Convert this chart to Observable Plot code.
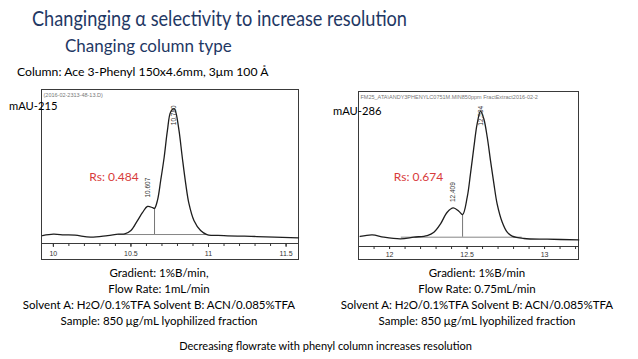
<!DOCTYPE html>
<html><head><meta charset="utf-8">
<script src="https://cdn.jsdelivr.net/npm/d3@7"></script>
<script src="https://cdn.jsdelivr.net/npm/@observablehq/plot@0.6"></script>
<style>
html,body{margin:0;padding:0;background:#fff;}
#page{position:relative;width:638px;height:359px;overflow:hidden;background:#fff;font-family:Lato,"Open Sans",sans-serif;}
.box{position:absolute;border:1px solid #3a3a3a;background:#fff;}
.box svg{display:block;}
#overlay{position:absolute;left:0;top:0;pointer-events:none;}
</style></head><body>
<div id="page">
  <div class="box" id="leftBox" style="left:41px;top:89px;width:256px;height:169px;"></div>
  <div class="box" id="rightBox" style="left:358px;top:91px;width:219px;height:167px;"></div>
  <svg id="overlay" width="638" height="359" font-family="Lato, 'Open Sans', sans-serif">
    <text x="32" y="26" font-size="21" fill="#1f3864" textLength="375" lengthAdjust="spacingAndGlyphs">Changinging α selectivity to increase resolution</text>
    <text x="65" y="52" font-size="17" fill="#1f3864">Changing column type</text>
    <text x="17" y="76" font-size="12.2" fill="#000">Column: Ace 3-Phenyl 150x4.6mm, 3μm 100 Å</text>
    <text x="9" y="110" font-size="11.2" fill="#000">mAU-215</text>
    <text x="333" y="115" font-size="11.2" fill="#000">mAU-286</text>
    <g font-size="11.5" fill="#000" text-anchor="middle">
      <text x="159" y="277">Gradient: 1%B/min,</text>
      <text x="159" y="293">Flow Rate: 1mL/min</text>
      <text x="159" y="309">Solvent A: H<tspan font-size="9">2</tspan>O/0.1%TFA Solvent B: ACN/0.085%TFA</text>
      <text x="159" y="325">Sample: 850 μg/mL lyophilized fraction</text>
      <text x="477" y="277">Gradient: 1%B/min</text>
      <text x="477" y="293">Flow Rate: 0.75mL/min</text>
      <text x="477" y="309">Solvent A: H<tspan font-size="9">2</tspan>O/0.1%TFA Solvent B: ACN/0.085%TFA</text>
      <text x="477" y="325">Sample: 850 μg/mL lyophilized fraction</text>
      <text x="325.5" y="350" font-size="11">Decreasing flowrate with phenyl column increases resolution</text>
    </g>
  </svg>
</div>
<script>
// ---- Left chromatogram (Ace 3-Phenyl, 1 mL/min) ----
const leftTime   = [9.93, 10.00, 10.07, 10.14, 10.24, 10.35, 10.42, 10.46, 10.50, 10.54, 10.575, 10.607, 10.64, 10.652, 10.671, 10.692, 10.714, 10.735, 10.756, 10.779, 10.79, 10.81, 10.831, 10.853, 10.874, 10.906, 10.949, 10.99, 11.10, 11.31, 11.58];
const leftSignal = [-1.5, 0.5, -0.5, -1, -4, -1.5, 0.5, 1, 6, 20, 33, 42, 40, 39, 51, 81, 115, 155, 183, 188, 182, 155, 115, 76, 46, 21, 6, 0, -1.5, -3, -5];
const leftMajorTicks = [10, 10.5, 11, 11.5];
const leftMinorTicks = [10.0, 10.1, 10.2, 10.3, 10.4, 10.5, 10.6, 10.7, 10.8, 10.9, 11.0, 11.1, 11.2, 11.3, 11.4, 11.5];
const leftPeakTimes  = [10.607, 10.780];
const leftPeakLabels = ["10.607", "10.780"];
const leftPeakLabelAt = [70, 178];
const leftValley = {time: 10.652, signal: 39};
const leftBaseStart = 10.42, leftBaseEnd = 10.99;
const leftRs = {time: 10.391, signal: 85, text: "Rs: 0.484"};
const leftHeader = "(2016-02-2313-48-13.D)";
const leftDomainX = [9.93, 11.58];
const leftDomainY = [-13.4, 215];

// ---- Right chromatogram (Ace 3-Phenyl, 0.75 mL/min) ----
const rightTime   = [11.81, 11.888, 11.963, 12.07, 12.157, 12.243, 12.286, 12.329, 12.372, 12.411, 12.447, 12.471, 12.501, 12.522, 12.544, 12.565, 12.587, 12.608, 12.63, 12.651, 12.673, 12.694, 12.727, 12.759, 12.791, 12.867, 13.017, 13.22];
const rightSignal = [1.4, 4.7, 0, -3.3, 0, 3.3, 9.9, 26.4, 49.4, 58, 51.4, 44.8, 79, 125, 178, 224, 249, 234, 198, 152, 106, 66, 29.6, 9.9, 2, -2.6, -4, -5.3];
const rightMajorTicks = [12, 12.5, 13];
const rightMinorTicks = [11.9, 12.0, 12.1, 12.2, 12.3, 12.4, 12.5, 12.6, 12.7, 12.8, 12.9, 13.0, 13.1, 13.2];
const rightPeakTimes  = [12.409, 12.590];
const rightPeakLabels = ["12.409", "12.594"];
const rightPeakLabelAt = [89, 240];
const rightValley = {time: 12.471, signal: 44.8};
const rightBaseStart = 12.075, rightBaseEnd = 12.85;
const rightRs = {time: 12.187, signal: 118, text: "Rs: 0.674"};
const rightHeader = "FM25_ATA\\ANDY3PHENYLC0751M.MIN850ppm FractExtract2016-02-2";
const rightDomainX = [11.806, 13.219];
const rightDomainY = [-18.4, 286];

function chromatogram(o) {
  const data = o.time.map((t, i) => ({time: t, signal: o.signal[i]}));
  const peaks = o.peakTimes.map((t, i) => ({time: t, signal: o.peakLabelAt[i], label: o.peakLabels[i]}));
  const base = [{time: o.baseStart, signal: 0}, {time: o.baseEnd, signal: 0}];
  return Plot.plot({
    width: o.width, height: o.height,
    marginTop: 0, marginLeft: 0, marginRight: 0, marginBottom: o.marginBottom,
    x: {domain: o.domainX, axis: null, label: null},
    y: {domain: o.domainY, axis: null, label: null},
    style: {fontFamily: "'Liberation Sans', Arial, sans-serif", background: "transparent", overflow: "visible"},
    marks: [
      Plot.frame({anchor: "bottom", stroke: "#3a3a3a"}),
      Plot.axisX({ticks: o.minorTicks, tickFormat: () => "", tickSize: 3, stroke: "#333", label: null}),
      Plot.axisX({ticks: o.majorTicks, tickFormat: d => String(d), tickSize: o.tickSize, tickPadding: o.tickPadding, fontSize: 7, fill: "#333", stroke: "#333", label: null}),
      Plot.line(base, {x: "time", y: "signal", stroke: "#666", strokeWidth: 0.8}),
      Plot.ruleX([o.valley], {x: "time", y1: 0, y2: "signal", stroke: "#666", strokeWidth: 0.9}),
      Plot.line(data, {x: "time", y: "signal", curve: "catmull-rom", stroke: "#1e1e1e", strokeWidth: 1.3}),
      Plot.text(peaks, {x: "time", y: "signal", text: "label", rotate: -90, fontSize: 6.5, fill: "#333"}),
      Plot.text([o.rs], {x: "time", y: "signal", text: "text", fill: "#d83b3b", fontSize: 12, fontFamily: "Lato, sans-serif"}),
      Plot.text([o.header], {text: d => d, frameAnchor: "top-left", dx: 1, dy: 3, fontSize: 5.5, fill: "#777"})
    ]
  });
}

document.getElementById("leftBox").appendChild(chromatogram({
  time: leftTime, signal: leftSignal, majorTicks: leftMajorTicks, minorTicks: leftMinorTicks,
  peakTimes: leftPeakTimes, peakLabels: leftPeakLabels, peakLabelAt: leftPeakLabelAt,
  valley: leftValley, baseStart: leftBaseStart, baseEnd: leftBaseEnd, rs: leftRs, header: leftHeader,
  domainX: leftDomainX, domainY: leftDomainY, width: 256, height: 169, marginBottom: 16,
  tickSize: 4, tickPadding: 4
}));
document.getElementById("rightBox").appendChild(chromatogram({
  time: rightTime, signal: rightSignal, majorTicks: rightMajorTicks, minorTicks: rightMinorTicks,
  peakTimes: rightPeakTimes, peakLabels: rightPeakLabels, peakLabelAt: rightPeakLabelAt,
  valley: rightValley, baseStart: rightBaseStart, baseEnd: rightBaseEnd, rs: rightRs, header: rightHeader,
  domainX: rightDomainX, domainY: rightDomainY, width: 219, height: 167, marginBottom: 13,
  tickSize: 3, tickPadding: 2.5
}));
</script>
</body></html>
